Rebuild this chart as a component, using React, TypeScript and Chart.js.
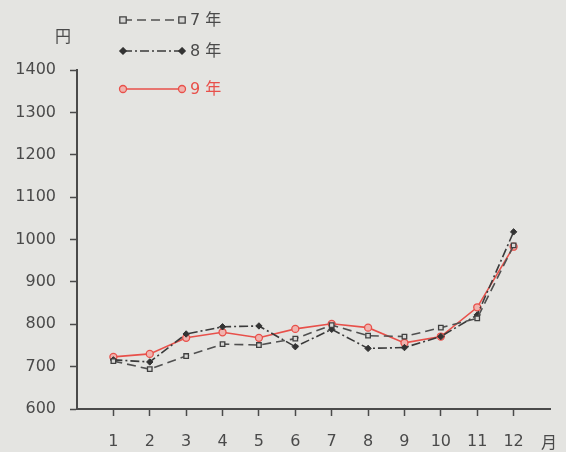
import React, { useEffect, useRef } from 'react';
import { Chart, registerables } from 'chart.js';

Chart.register(...registerables);

const months = [1, 2, 3, 4, 5, 6, 7, 8, 9, 10, 11, 12];
const seriesNames = ['7 年', '8 年', '9 年'];
const year7 = [713, 694, 725, 753, 751, 766, 798, 773, 771, 792, 814, 986];
const year8 = [716, 711, 777, 794, 796, 747, 788, 743, 745, 771, 822, 1018];
const year9 = [723, 730, 768, 781, 768, 789, 801, 792, 756, 771, 840, 983];
const yTicks = [600, 700, 800, 900, 1000, 1100, 1200, 1300, 1400];
const yUnit = '円';
const xUnit = '月';

const INK = '#4a4a4a';
const RED = '#e8504a';
const BG = '#e4e4e1';
const FONT = '"DejaVu Sans", "Noto Sans CJK JP", sans-serif';

function drawMarker(ctx: CanvasRenderingContext2D, style: string, x: number, y: number, r: number, fill: string, stroke: string) {
  ctx.save();
  ctx.setLineDash([]);
  ctx.fillStyle = fill;
  ctx.strokeStyle = stroke;
  ctx.lineWidth = 1.3;
  ctx.beginPath();
  if (style === 'rect') {
    ctx.rect(x - r, y - r, 2 * r, 2 * r);
  } else if (style === 'rectRot') {
    ctx.moveTo(x, y - r);
    ctx.lineTo(x + r, y);
    ctx.lineTo(x, y + r);
    ctx.lineTo(x - r, y);
    ctx.closePath();
  } else {
    ctx.arc(x, y, r, 0, Math.PI * 2);
  }
  ctx.fill();
  ctx.stroke();
  ctx.restore();
}

const decorPlugin = {
  id: 'decor',
  afterDraw(chart: any) {
    const ctx: CanvasRenderingContext2D = chart.ctx;
    const rows = [20, 51, 89];
    ctx.save();
    ctx.font = `16px ${FONT}`;
    ctx.textBaseline = 'middle';
    chart.data.datasets.forEach((ds: any, i: number) => {
      const y = rows[i];
      ctx.save();
      ctx.strokeStyle = ds.borderColor;
      ctx.lineWidth = ds.borderWidth;
      ctx.setLineDash(ds.borderDash || []);
      ctx.beginPath();
      ctx.moveTo(123, y);
      ctx.lineTo(182, y);
      ctx.stroke();
      ctx.restore();
      drawMarker(ctx, ds.pointStyle, 123, y, ds.pointRadius, ds.pointBackgroundColor, ds.pointBorderColor);
      drawMarker(ctx, ds.pointStyle, 182, y, ds.pointRadius, ds.pointBackgroundColor, ds.pointBorderColor);
      ctx.fillStyle = i === 2 ? RED : INK;
      ctx.textAlign = 'left';
      ctx.fillText(ds.label, 190, y + 1);
    });
    ctx.fillStyle = INK;
    ctx.textAlign = 'center';
    ctx.fillText(yUnit, 63, 38);
    ctx.fillText(xUnit, 549, 444);
    ctx.restore();
  },
};

export default function App() {
  const ref = useRef<HTMLCanvasElement | null>(null);
  useEffect(() => {
    if (!ref.current) return;
    const mk = (vals: number[]) => vals.map((v, i) => ({ x: months[i], y: v }));
    const chart = new Chart(ref.current, {
      type: 'line',
      data: {
        datasets: [
          {
            label: seriesNames[0],
            data: mk(year7),
            borderColor: '#505050',
            borderWidth: 1.6,
            borderDash: [9, 5],
            pointStyle: 'rect',
            pointRadius: 3.2,
            pointBackgroundColor: '#d8d8d6',
            pointBorderColor: '#404040',
            pointBorderWidth: 1.3,
            tension: 0,
          } as any,
          {
            label: seriesNames[1],
            data: mk(year8),
            borderColor: '#3a3a3a',
            borderWidth: 1.6,
            borderDash: [9, 3, 2, 3],
            pointStyle: 'rectRot',
            pointRadius: 3.2,
            pointBackgroundColor: '#333333',
            pointBorderColor: '#333333',
            pointBorderWidth: 1,
            tension: 0,
          } as any,
          {
            label: seriesNames[2],
            data: mk(year9),
            borderColor: RED,
            borderWidth: 1.6,
            pointStyle: 'circle',
            pointRadius: 3.5,
            pointBackgroundColor: '#f0b3ae',
            pointBorderColor: RED,
            pointBorderWidth: 1.3,
            tension: 0,
          } as any,
        ],
      },
      options: {
        animation: false,
        responsive: false,
        devicePixelRatio: 1,
        layout: { padding: { top: 70, right: 13, left: 0, bottom: 0 } },
        plugins: { legend: { display: false }, tooltip: { enabled: false } },
        scales: {
          x: {
            type: 'linear',
            min: 0,
            max: 13,
            afterFit: (s: any) => { s.height = 43; },
            afterBuildTicks: (s: any) => {
              s.ticks = [0, ...months, 13].map((v) => ({ value: v }));
            },
            ticks: {
              autoSkip: false,
              maxRotation: 0,
              padding: 16,
              color: INK,
              font: { family: FONT, size: 16 },
              callback: (v: any) => (v >= 1 && v <= 12 ? String(v) : ''),
            },
            grid: {
              drawOnChartArea: false,
              drawTicks: true,
              tickLength: 7,
              tickWidth: 1.5,
              tickColor: (c: any) => (c.tick && c.tick.value >= 1 && c.tick.value <= 12 ? INK : 'rgba(0,0,0,0)'),
            },
            border: { color: INK, width: 2 },
          },
          y: {
            type: 'linear',
            min: 600,
            max: 1400,
            afterFit: (s: any) => { s.width = 77; },
            afterBuildTicks: (s: any) => {
              s.ticks = yTicks.map((v) => ({ value: v }));
            },
            ticks: {
              padding: 14,
              color: INK,
              font: { family: FONT, size: 16 },
              callback: (v: any) => String(v),
            },
            grid: {
              drawOnChartArea: false,
              drawTicks: true,
              tickLength: 7,
              tickWidth: 1.5,
              tickColor: INK,
            },
            border: { color: INK, width: 2 },
          },
        },
      },
      plugins: [decorPlugin],
    });
    return () => chart.destroy();
  }, []);
  return (
    <div style={{ position: 'fixed', left: 0, top: 0, width: 566, height: 452, background: BG }}>
      <canvas ref={ref} width={566} height={452} style={{ width: 566, height: 452, display: 'block' }} />
    </div>
  );
}
